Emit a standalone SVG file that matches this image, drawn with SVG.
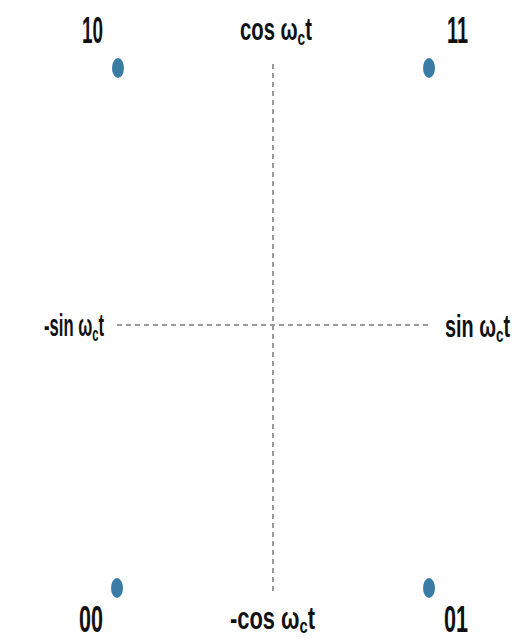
<svg xmlns="http://www.w3.org/2000/svg" width="527" height="639" viewBox="0 0 527 639">
<style>
.lbl{font-family:"Liberation Sans",Arial,sans-serif;fill:#111;font-weight:bold;}
.num{font-size:37px;}
.axis{font-size:31px;}
.sub{font-size:21px;}
.dash{stroke:#9a9a9a;stroke-width:2;stroke-dasharray:5 4;fill:none;}
.pt{fill:#3a7ca6;}
</style>
<rect width="527" height="639" fill="#ffffff"/>
<g id="connectors">
<line class="dash" x1="273" y1="64" x2="273" y2="594"/>
<line class="dash" x1="117" y1="325" x2="430" y2="325"/>
</g>
<g id="p10"><ellipse class="pt" cx="118" cy="68" rx="6" ry="10"/><text class="lbl num" x="82" y="43" textLength="21" lengthAdjust="spacingAndGlyphs">10</text></g>
<g id="p11"><ellipse class="pt" cx="429" cy="68" rx="6" ry="10"/><text class="lbl num" x="447" y="43" textLength="21" lengthAdjust="spacingAndGlyphs">11</text></g>
<g id="p00"><ellipse class="pt" cx="117" cy="588" rx="6" ry="10"/><text class="lbl num" x="79" y="632" textLength="24" lengthAdjust="spacingAndGlyphs">00</text></g>
<g id="p01"><ellipse class="pt" cx="429" cy="588" rx="6" ry="10"/><text class="lbl num" x="444" y="632" textLength="24" lengthAdjust="spacingAndGlyphs">01</text></g>
<g id="cos"><text class="lbl axis" x="240" y="40" textLength="72" lengthAdjust="spacingAndGlyphs">cos ω<tspan class="sub" dy="5">c</tspan><tspan dy="-5">t</tspan></text></g>
<g id="negcos"><text class="lbl axis" x="230" y="629" textLength="85" lengthAdjust="spacingAndGlyphs">-cos ω<tspan class="sub" dy="4">c</tspan><tspan dy="-4">t</tspan></text></g>
<g id="negsin"><text class="lbl axis" x="44" y="336" textLength="60" lengthAdjust="spacingAndGlyphs">-sin ω<tspan class="sub" dy="5">c</tspan><tspan dy="-5">t</tspan></text></g>
<g id="sin"><text class="lbl axis" x="445" y="337" textLength="65" lengthAdjust="spacingAndGlyphs">sin ω<tspan class="sub" dy="5">c</tspan><tspan dy="-5">t</tspan></text></g>
</svg>
